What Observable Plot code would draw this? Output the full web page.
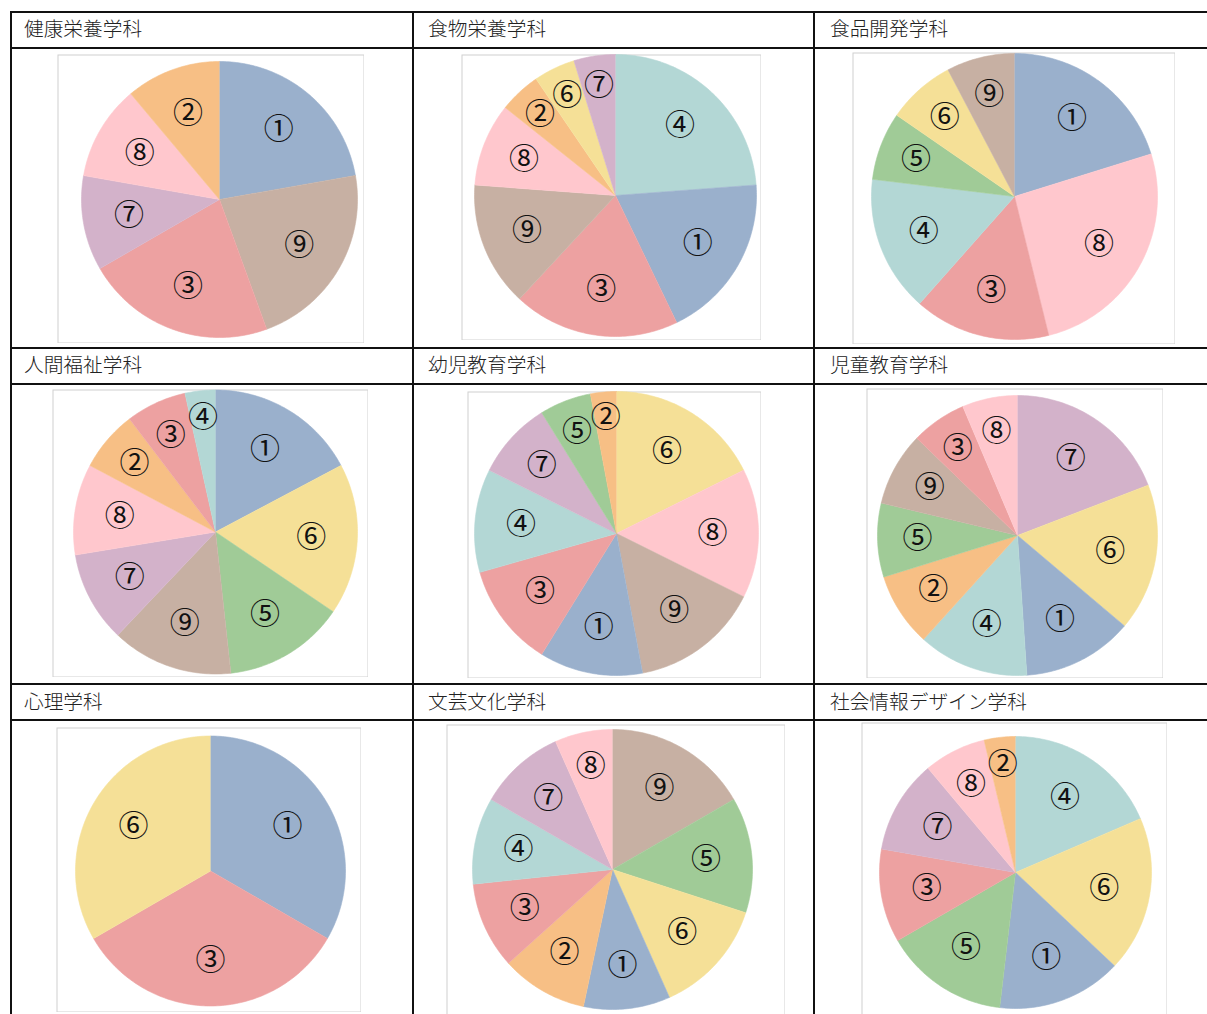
<!DOCTYPE html>
<html><head><meta charset="utf-8">
<script src="https://cdn.jsdelivr.net/npm/d3@7"></script>
<script src="https://cdn.jsdelivr.net/npm/@observablehq/plot@0.6"></script>
<style>
html,body{margin:0;padding:0;background:#fff;width:1207px;height:1014px;overflow:hidden;}
#page{position:relative;width:1207px;height:1014px;overflow:hidden;}
.hl{position:absolute;height:2px;background:#111;}
.vl{position:absolute;width:2px;background:#111;}
.hd{position:absolute;font-family:"Noto Sans CJK JP";font-weight:300;font-size:19.7px;color:#222;height:36px;line-height:36px;white-space:nowrap;}
.chart{position:absolute;}
.chart svg{display:block;}
</style></head><body><div id="page"></div>
<script>
// ---- data ----
const departments = ["健康栄養学科","食物栄養学科","食品開発学科","人間福祉学科","幼児教育学科","児童教育学科","心理学科","文芸文化学科","社会情報デザイン学科"];
const symbols = ["①","②","③","④","⑤","⑥","⑦","⑧","⑨"];
const symbolColors = ["#9ab0cc","#f7bf85","#eda1a1","#b3d7d5","#a0cb97","#f5e097","#d3b2ca","#ffc7cd","#c7b0a3"];

const kenkoLabels = ["①","⑨","③","⑦","⑧","②"];
const kenkoValues = [2,2,2,1,1,1];
const shokumotsuLabels = ["④","①","③","⑨","⑧","②","⑥","⑦"];
const shokumotsuValues = [5,4,4,3,2,1,1,1];
const shokuhinLabels = ["①","⑧","③","④","⑤","⑥","⑨"];
const shokuhinValues = [5.25,6.75,4,4,2,2,2];
const ningenLabels = ["①","⑥","⑤","⑨","⑦","⑧","②","③","④"];
const ningenValues = [5,5,4,4,3,3,2,2,1];
const yojiLabels = ["⑥","⑧","⑨","①","③","④","⑦","⑤","②"];
const yojiValues = [6,5,5,4,4,4,3,2,1];
const jidoLabels = ["⑦","⑥","①","④","②","⑤","⑨","③","⑧"];
const jidoValues = [9,8,6,6,4,4,4,3,3];
const shinriLabels = ["①","③","⑥"];
const shinriValues = [1,1,1];
const bungeiLabels = ["⑨","⑤","⑥","①","②","③","④","⑦","⑧"];
const bungeiValues = [5,4,4,3,3,3,3,3,2];
const shakaiLabels = ["④","⑥","①","⑤","③","⑦","⑧","②"];
const shakaiValues = [5,5,4,4,3,3,2,1];

const seriesLabels = [kenkoLabels,shokumotsuLabels,shokuhinLabels,ningenLabels,yojiLabels,jidoLabels,shinriLabels,bungeiLabels,shakaiLabels];
const seriesValues = [kenkoValues,shokumotsuValues,shokuhinValues,ningenValues,yojiValues,jidoValues,shinriValues,bungeiValues,shakaiValues];

// ---- layout (page pixels) ----
const colLines = [10, 412, 813, 1215];
const rowLines = [11, 47, 347, 383, 683, 719];
const headerTops = [10, 346, 683];
const headerLefts = [24, 428, 830];
const boxes = [
  [57,54,364,343],[461,54,761,340],[852,52,1175,344],
  [52,389,368,677],[467,391,761,678],[866,388,1163,678],
  [56,727,361,1012],[446,724,785,1030],[861,722,1167,1030]
];
const centres = [[219,199],[615,195],[1014,196],[215,531.5],[616,533],[1017,535],[210,870.5],[612,869],[1015,872]];
const radii = [138,141,143,142,142,140,135,140,136];

const page = document.getElementById("page");
rowLines.forEach(y => { const d = document.createElement("div"); d.className="hl"; d.style.left="10px"; d.style.top=y+"px"; d.style.width="1207px"; page.appendChild(d); });
colLines.forEach(x => { const d = document.createElement("div"); d.className="vl"; d.style.left=x+"px"; d.style.top="11px"; d.style.height="1010px"; page.appendChild(d); });
departments.forEach((name,i) => {
  const d = document.createElement("div"); d.className="hd";
  d.style.left = headerLefts[i%3]+"px"; d.style.top = headerTops[Math.floor(i/3)]+"px";
  d.textContent = name; page.appendChild(d);
});

function sliceRows(labels, values){
  const arcs = d3.pie().sort(null).value(d=>d)(values);
  const rows = [];
  arcs.forEach((a,i) => {
    const n = Math.max(2, Math.ceil((a.endAngle-a.startAngle)/(Math.PI/180)));
    rows.push({slice:i,label:labels[i],x:0,y:0});
    for (let k=0;k<=n;k++){
      const t = a.startAngle + (a.endAngle-a.startAngle)*k/n;
      rows.push({slice:i,label:labels[i],x:Math.sin(t),y:Math.cos(t)});
    }
  });
  return {rows, arcs};
}

seriesValues.forEach((values,i) => {
  const labels = seriesLabels[i];
  const [x0,y0,x1,y1] = boxes[i];
  const W = x1-x0, H = y1-y0;
  const r = radii[i];
  const cx = centres[i][0]-x0, cy = centres[i][1]-y0;
  const {rows, arcs} = sliceRows(labels, values);
  const labelRows = arcs.map((a,k) => {
    const mid = (a.startAngle+a.endAngle)/2;
    const deg = (a.endAngle-a.startAngle)*180/Math.PI;
    const off = Math.min(46, 17 + 0.75*deg);
    const d = (r-off)/r;
    return {label: labels[k], x: d*Math.sin(mid), y: d*Math.cos(mid)};
  });
  const chart = Plot.plot({
    width: W, height: H, margin: 0,
    x: {domain: [-cx/r, (W-cx)/r], range: [0, W], axis: null},
    y: {domain: [-(H-cy)/r, cy/r], range: [H, 0], axis: null},
    color: {domain: symbols, range: symbolColors},
    style: {background: "#fff"},
    marks: [
      Plot.frame({stroke: "#d0d0d0", inset: 0.5}),
      Plot.line(rows, {x: "x", y: "y", z: "slice", fill: "label", stroke: "label", strokeWidth: 0.6, curve: "linear"}),
      Plot.text(labelRows, {x: "x", y: "y", text: "label", fontSize: 30, fontFamily: "Noto Sans CJK JP", fill: "#111"})
    ]
  });
  const holder = document.createElement("div");
  holder.className = "chart";
  holder.style.left = x0+"px"; holder.style.top = y0+"px";
  holder.appendChild(chart);
  page.appendChild(holder);
});
</script>
</body></html>
